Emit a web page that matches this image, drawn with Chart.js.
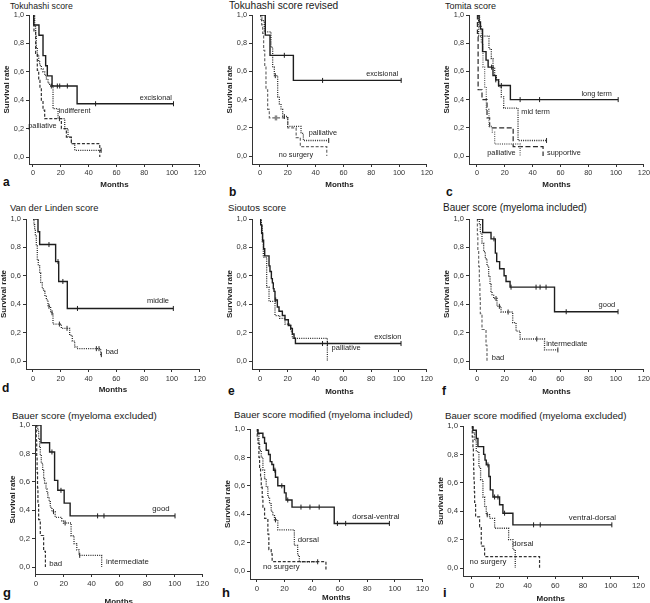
<!DOCTYPE html>
<html>
<head>
<meta charset="utf-8">
<script src="https://cdn.jsdelivr.net/npm/chart.js@4.4.1/dist/chart.umd.min.js"></script>
<style>
html, body { margin: 0; padding: 0; background: #fff; }
body { width: 650px; height: 603px; position: relative; overflow: hidden; font-family: 'Liberation Sans', Arial, sans-serif; }
.ttl { position: absolute; line-height: 12px; color: #1a1a1a; white-space: nowrap; }
.let { position: absolute; line-height: 14px; font-weight: bold; color: #111; }
</style>
</head>
<body>
<script>
// axis ticks
const xTicks = [0, 20, 40, 60, 80, 100, 120];
const yTicks = [0, 0.2, 0.4, 0.6, 0.8, 1.0];

// a - Tokuhashi score
const aExcT = [0, 0.5, 4.3, 7.2, 9.1, 10.3, 13.7, 31.7, 101];
const aExcS = [1, 0.93, 0.857, 0.714, 0.643, 0.571, 0.5, 0.375, 0.375];
const aExcC = [17.5, 19.2, 24.7, 45, 101];
const aIndT = [0, 1.2, 1.9, 2.4, 3.1, 4.1, 4.8, 6, 7.2, 8.4, 9.6, 10.8, 12, 14.4, 18, 22.8, 25.2, 27.6, 30, 49];
const aIndS = [1, 0.92, 0.85, 0.77, 0.72, 0.67, 0.645, 0.62, 0.6, 0.575, 0.55, 0.52, 0.5, 0.34, 0.27, 0.2, 0.14, 0.094, 0.047, 0.047];
const aIndC = [13.2, 49];
const aPalT = [0, 0.7, 1.9, 3.1, 4.1, 5, 6, 7.2, 8.4, 20.4, 24, 27.6, 48];
const aPalS = [1, 0.88, 0.73, 0.61, 0.54, 0.48, 0.4, 0.33, 0.27, 0.2, 0.14, 0.094, 0];
const aPalC = [19];

// b - Tokuhashi score revised
const bExcT = [0, 3.8, 7.2, 24, 101.5];
const bExcS = [1, 0.857, 0.714, 0.536, 0.536];
const bExcC = [17.5, 45, 101.5];
const bPalT = [0, 1.4, 3.1, 7.9, 9.1, 10.3, 12.7, 13.9, 15.1, 16.3, 19.9, 29.5, 31.2, 49.4];
const bPalS = [1, 0.96, 0.88, 0.77, 0.63, 0.57, 0.42, 0.37, 0.33, 0.28, 0.21, 0.16, 0.11, 0.11];
const bPalC = [11, 17.5, 49.4];
const bNoT = [0, 0.5, 1.2, 1.9, 2.6, 3.4, 4.3, 5.5, 6.7, 20, 26, 29, 48];
const bNoS = [1, 0.97, 0.93, 0.87, 0.75, 0.63, 0.47, 0.33, 0.27, 0.2, 0.13, 0.067, 0];
const bNoC = [11, 12];

// c - Tomita score
const cLongT = [0, 1.5, 2.5, 4, 6.5, 8, 11.5, 13.5, 15.5, 24, 101.5];
const cLongS = [1, 0.95, 0.9, 0.74, 0.68, 0.63, 0.57, 0.54, 0.5, 0.4, 0.4];
const cLongC = [10.5, 13.5, 17.5, 31, 45, 101.5];
const cMidT = [0, 1.2, 8.6, 10.3, 11.5, 12.7, 13.9, 15.6, 17.5, 19.2, 29.5, 50];
const cMidS = [1, 0.85, 0.76, 0.69, 0.63, 0.57, 0.54, 0.49, 0.42, 0.34, 0.11, 0.11];
const cMidC = [50];
const cPalT = [0, 1.9, 3.1, 4.3, 5.5, 6.7, 8.6, 11, 12.7, 31];
const cPalS = [1, 0.92, 0.8, 0.63, 0.49, 0.33, 0.21, 0.17, 0.085, 0];
const cSupT = [0, 0.3, 0.8, 3.6, 7.2, 9.1, 26, 47.5];
const cSupS = [1, 0.87, 0.47, 0.4, 0.27, 0.2, 0.067, 0];

// d - Van der Linden score
const dMidT = [0, 3.6, 4.8, 16.3, 18.5, 24.7, 101];
const dMidS = [1, 0.91, 0.82, 0.7, 0.56, 0.37, 0.37];
const dMidC = [11.5, 18, 21.5, 32, 101];
const dBadT = [0, 0.7, 1.2, 1.7, 2.4, 3.1, 3.8, 4.8, 5.5, 6.7, 7.7, 8.6, 9.6, 10.8, 12.7, 14.4, 20.4, 26.4, 28.3, 30, 31.7, 48.7, 49.2];
const dBadS = [1, 0.96, 0.92, 0.88, 0.81, 0.71, 0.67, 0.62, 0.55, 0.51, 0.49, 0.455, 0.43, 0.385, 0.34, 0.26, 0.23, 0.18, 0.14, 0.1, 0.087, 0.045, 0.045];
const dBadC = [11.5, 13.7, 19, 24.5, 45.6, 47.5, 49.2];

// e - Sioutos score
const eExcT = [0, 0.5, 1.2, 1.9, 2.6, 3.4, 6.5, 7.2, 8.2, 8.9, 9.6, 10.1, 10.8, 12.5, 13.7, 16.1, 18, 20.4, 22.1, 23.3, 24.5, 25.5, 101.5];
const eExcS = [1, 0.96, 0.9, 0.85, 0.79, 0.74, 0.67, 0.63, 0.58, 0.55, 0.51, 0.49, 0.43, 0.38, 0.35, 0.32, 0.29, 0.25, 0.23, 0.19, 0.16, 0.123, 0.123];
const eExcC = [11.3, 45, 48.5, 101.5];
const ePalT = [0, 1, 1.7, 2.4, 4.8, 6.5, 10.8, 14.2, 18, 22.1, 23.3, 48.5];
const ePalS = [1, 0.95, 0.84, 0.73, 0.52, 0.42, 0.32, 0.3, 0.26, 0.21, 0.16, 0];

// f - Bauer score (myeloma included)
const fGoodT = [0, 4.1, 10.1, 13.2, 14.2, 16.3, 19.5, 20.9, 23.8, 55.8, 101.5];
const fGoodS = [1, 0.905, 0.86, 0.76, 0.7, 0.65, 0.6, 0.56, 0.52, 0.347, 0.347];
const fGoodC = [12.2, 24.5, 42.5, 45.4, 49.7, 64.2, 101.5];
const fIntT = [0, 1.7, 2.4, 3.6, 4.8, 6, 7.2, 8.4, 9.4, 10.1, 10.8, 12, 14.4, 17.3, 25.7, 28.1, 31, 48.6, 58.2];
const fIntS = [1, 0.96, 0.9, 0.83, 0.77, 0.72, 0.67, 0.6, 0.54, 0.49, 0.467, 0.44, 0.385, 0.345, 0.27, 0.21, 0.155, 0.078, 0.078];
const fIntC = [13.7, 16.1, 22.4, 43, 58.2];
const fBadT = [0, 0.3, 0.6, 1.2, 1.7, 2.1, 2.4, 3.6, 6.5, 7.2];
const fBadS = [1, 0.889, 0.778, 0.667, 0.556, 0.444, 0.333, 0.222, 0.111, 0];

// g - Bauer score (myeloma excluded)
const gGoodT = [0, 3.6, 9.8, 13.4, 15.7, 20.3, 24.6, 100.2];
const gGoodS = [1, 0.875, 0.81, 0.61, 0.54, 0.45, 0.36, 0.36];
const gGoodC = [11.5, 18, 44.4, 49, 100.2];
const gIntT = [0, 1.2, 1.9, 2.6, 3.1, 3.8, 4.8, 5.5, 6.2, 7.2, 7.9, 8.6, 9.5, 10.3, 11.5, 13.8, 18.6, 19.8, 25.3, 27.4, 29.4, 31, 47.3];
const gIntS = [1, 0.965, 0.9, 0.85, 0.79, 0.73, 0.68, 0.62, 0.59, 0.55, 0.52, 0.49, 0.46, 0.42, 0.39, 0.35, 0.325, 0.31, 0.22, 0.165, 0.12, 0.082, 0];
const gIntC = [12.6, 21, 31.5];
const gBadT = [0, 0.2, 0.5, 0.8, 1.1, 1.4, 1.9, 3.1, 5.5, 6.8];
const gBadS = [1, 0.889, 0.778, 0.667, 0.556, 0.444, 0.333, 0.222, 0.111, 0];

// h - Bauer score modified (myeloma included)
const hDvT = [0, 0.7, 4.3, 5.5, 6.7, 8.4, 9.6, 10.8, 12, 13.4, 15.1, 19.9, 21.1, 25.4, 56, 96];
const hDvS = [1, 0.97, 0.94, 0.9, 0.85, 0.82, 0.77, 0.75, 0.71, 0.66, 0.6, 0.55, 0.5, 0.45, 0.335, 0.335];
const hDvC = [13, 18, 22.3, 31.9, 38.4, 45.1, 58.3, 64.3, 96];
const hDorT = [0, 0.7, 1.4, 1.9, 3.1, 4.3, 5.5, 6.7, 7.9, 9.1, 10.3, 11.5, 12.7, 15.1, 27.1, 29.5, 30.7, 44];
const hDorS = [1, 0.97, 0.9, 0.85, 0.8, 0.71, 0.65, 0.59, 0.52, 0.475, 0.42, 0.39, 0.36, 0.29, 0.18, 0.11, 0.065, 0.065];
const hDorC = [13.4, 44];
const hNoT = [0, 0.2, 0.7, 1.4, 1.9, 2.6, 3.1, 3.8, 4.3, 5.5, 7.9, 8.6, 10.3, 11, 50];
const hNoS = [1, 0.95, 0.9, 0.8, 0.73, 0.66, 0.59, 0.52, 0.45, 0.37, 0.26, 0.15, 0.12, 0.066, 0];

// i - Bauer score modified (myeloma excluded)
const iVdT = [0, 0.7, 3.1, 4.3, 8.4, 9.4, 10.3, 12.2, 13.2, 15.1, 19.9, 22.3, 29.5, 100.8];
const iVdS = [1, 0.97, 0.913, 0.855, 0.8, 0.76, 0.726, 0.644, 0.55, 0.5, 0.445, 0.386, 0.304, 0.304];
const iVdC = [11.5, 16.3, 18.7, 23.5, 44.4, 49.2, 100.8];
const iDorT = [0, 0.7, 1.9, 3.1, 5, 6.2, 7.9, 9.1, 10.3, 12.7, 16.3, 26.4, 29.5, 31.2];
const iDorS = [1, 0.95, 0.9, 0.82, 0.71, 0.62, 0.5, 0.43, 0.375, 0.35, 0.28, 0.2, 0.13, 0];
const iDorC = [11];
const iNoT = [0, 0.2, 0.7, 1, 1.2, 1.4, 1.7, 1.9, 2.6, 5.5, 6.7, 9.1, 48.7];
const iNoS = [1, 0.923, 0.846, 0.769, 0.692, 0.615, 0.538, 0.462, 0.36, 0.29, 0.154, 0.08, 0];

Chart.defaults.font.family = "'Liberation Sans', Arial, sans-serif";
Chart.defaults.color = '#333';

const STY = {
    solid: { color: '#1e1e1e', width: 1.4, dash: [] },
    dot: { color: '#2a2a2a', width: 1.3, dash: [1, 1.2] },
    dotgray: { color: '#6a6a6a', width: 1.3, dash: [1, 1.2] },
    dash: { color: '#333', width: 1.2, dash: [3, 1.8] },
    dashgray: { color: '#6a6a6a', width: 1.2, dash: [3, 1.8] },
    longdash: { color: '#2a2a2a', width: 1.2, dash: [5, 2.5] }
};

// geo: axis-left px, x=0 px, x=120 px, y=1 px, y=0 px, axis-bottom px, "Months" centre y
// fs: title size, tick size, letter size
const panels = [
    { title: 'Tokuhashi score', letter: 'a', fs: [8.7, 7.3, 12], tpos: [10, 6], lpos: [3, 183], geo: [29, 33.3, 200, 14.7, 156.7, 164.3, 185],
      curves: [{ t: aExcT, s: aExcS, c: aExcC, st: 'solid' }, { t: aIndT, s: aIndS, c: aIndC, st: 'dot' }, { t: aPalT, s: aPalS, c: aPalC, st: 'dash' }],
      labels: [['excisional', 76.8, 0.418], ['indifferent', 18.5, 0.324], ['palliative', -3.4, 0.216]] },
    { title: 'Tokuhashi score revised', letter: 'b', fs: [10.2, 7.3, 12], tpos: [229, 6], lpos: [229, 193], geo: [251.7, 260, 426.7, 14.7, 156, 164, 185],
      curves: [{ t: bExcT, s: bExcS, c: bExcC, st: 'solid' }, { t: bPalT, s: bPalS, c: bPalC, st: 'dot' }, { t: bNoT, s: bNoS, c: bNoC, st: 'dashgray' }],
      labels: [['excisional', 76.3, 0.585], ['palliative', 35, 0.16], ['no surgery', 13.4, 0.007]] },
    { title: 'Tomita score', letter: 'c', fs: [9, 7.3, 12], tpos: [445, 6], lpos: [446, 193], geo: [468.7, 477, 643.7, 14.7, 156, 164, 185],
      curves: [{ t: cLongT, s: cLongS, c: cLongC, st: 'solid' }, { t: cMidT, s: cMidS, c: cMidC, st: 'dot' }, { t: cPalT, s: cPalS, st: 'dotgray' }, { t: cSupT, s: cSupS, st: 'longdash' }],
      labels: [['long term', 75.1, 0.443], ['mid term', 31.9, 0.309], ['palliative', 7.4, 0.019], ['supportive', 50.4, 0.019]] },
    { title: 'Van der Linden score', letter: 'd', fs: [9.4, 7.5, 12], tpos: [10, 208], lpos: [2, 389], geo: [26, 33.3, 200, 219.3, 361.3, 369.3, 390],
      curves: [{ t: dMidT, s: dMidS, c: dMidC, st: 'solid' }, { t: dBadT, s: dBadS, c: dBadC, st: 'dot' }],
      labels: [['middle', 82, 0.42], ['bad', 52.3, 0.061]] },
    { title: 'Sioutos score', letter: 'e', fs: [9.6, 7.5, 12], tpos: [228, 208], lpos: [228, 392], geo: [251.7, 260.3, 426.7, 219.3, 360.7, 368.7, 391.7],
      curves: [{ t: eExcT, s: eExcS, c: eExcC, st: 'solid' }, { t: ePalT, s: ePalS, st: 'dot' }],
      labels: [['excision', 82.3, 0.17], ['palliative', 51.5, 0.094]] },
    { title: 'Bauer score (myeloma included)', letter: 'f', fs: [10, 7.5, 12], tpos: [443, 208], lpos: [442, 392], geo: [468.7, 477.3, 643.7, 219.3, 361.3, 369, 391.7],
      curves: [{ t: fGoodT, s: fGoodS, c: fGoodC, st: 'solid' }, { t: fIntT, s: fIntS, c: fIntC, st: 'dot' }, { t: fBadT, s: fBadS, st: 'dashgray' }],
      labels: [['good', 87.5, 0.397], ['intermediate', 49.8, 0.122], ['bad', 10.6, 0.021]] },
    { title: 'Bauer score (myeloma excluded)', letter: 'g', fs: [9.9, 7.8, 13], tpos: [12, 416], lpos: [3, 594], geo: [35, 35.7, 203.3, 425, 566.7, 574, 601.7],
      curves: [{ t: gGoodT, s: gGoodS, c: gGoodC, st: 'solid' }, { t: gIntT, s: gIntS, c: gIntC, st: 'dot' }, { t: gBadT, s: gBadS, st: 'dash' }],
      labels: [['good', 83.8, 0.407], ['intermediate', 50.4, 0.035], ['bad', 9.5, 0.019]] },
    { title: 'Bauer score modified (myeloma included)', letter: 'h', fs: [9.7, 7.8, 13], tpos: [234, 415], lpos: [222, 594], geo: [250.3, 256.7, 423.3, 429, 570.7, 579, 598],
      curves: [{ t: hDvT, s: hDvS, c: hDvC, st: 'solid' }, { t: hDorT, s: hDorS, c: hDorC, st: 'dot' }, { t: hNoT, s: hNoS, st: 'dash' }],
      labels: [['dorsal-ventral', 69.1, 0.381], ['dorsal', 29.5, 0.216], ['no surgery', 4.3, 0.028]] },
    { title: 'Bauer score modified (myeloma excluded)', letter: 'i', fs: [9.7, 7.8, 13], tpos: [445, 416], lpos: [443, 594], geo: [463, 472, 638.7, 426, 568.3, 576, 599],
      curves: [{ t: iVdT, s: iVdS, c: iVdC, st: 'solid' }, { t: iDorT, s: iDorS, c: iDorC, st: 'dot' }, { t: iNoT, s: iNoS, st: 'dash' }],
      labels: [['ventral-dorsal', 69.8, 0.351], ['dorsal', 29, 0.171], ['no surgery', -1.7, 0.042]] }
];

function stepAt(t, s, x) {
    let v = s[0];
    for (let i = 0; i < t.length; i++) if (t[i] <= x) v = s[i];
    return v;
}

function labelPlugin(items, size) {
    return {
        id: 'curveLabels',
        afterDatasetsDraw(chart) {
            const { ctx, scales } = chart;
            ctx.save();
            ctx.font = size + "px 'Liberation Sans', Arial, sans-serif";
            ctx.fillStyle = '#1e1e1e';
            ctx.textAlign = 'left';
            ctx.textBaseline = 'middle';
            items.forEach(([txt, tx, sy]) => {
                ctx.fillText(txt, scales.x.getPixelForValue(tx), scales.y.getPixelForValue(sy));
            });
            ctx.restore();
        }
    };
}

panels.forEach(p => {
    const [XL, X0, X120, Y1, Y0, YB, MO] = p.geo.map(Math.round);
    const [titleSize, tickSize, letterSize] = p.fs;
    const yw = 27;
    const hx = Math.round(MO - YB + 4.8);
    const left = XL - yw, top = Y1 - 10;
    const w = X120 + 8 - left, h = YB + hx - top;

    const t = document.createElement('div');
    t.className = 'ttl';
    t.textContent = p.title;
    t.style.fontSize = titleSize + 'px';
    t.style.left = p.tpos[0] + 'px';
    t.style.top = (p.tpos[1] - 6) + 'px';
    document.body.appendChild(t);

    const l = document.createElement('div');
    l.className = 'let';
    l.textContent = p.letter;
    l.style.fontSize = letterSize + 'px';
    l.style.left = p.lpos[0] + 'px';
    l.style.top = (p.lpos[1] - 8) + 'px';
    document.body.appendChild(l);

    const cv = document.createElement('canvas');
    cv.width = w; cv.height = h;
    cv.style.cssText = `position:absolute;left:${left}px;top:${top}px;width:${w}px;height:${h}px;`;
    document.body.appendChild(cv);

    const xmin = -(X0 - XL) * 120 / (X120 - X0);
    const ymin = -(YB - Y0) / (Y0 - Y1);

    const datasets = [];
    p.curves.forEach(c => {
        const st = STY[c.st];
        datasets.push({
            data: c.t.map((v, i) => ({ x: v, y: c.s[i] })),
            stepped: true,
            borderColor: st.color,
            borderWidth: st.width,
            borderDash: st.dash,
            pointRadius: 0,
            fill: false
        });
        if (c.c) {
            datasets.push({
                data: c.c.map(v => ({ x: v, y: stepAt(c.t, c.s, v) })),
                showLine: false,
                pointStyle: 'line',
                pointRotation: 90,
                pointRadius: 2.5,
                pointBorderWidth: 1,
                borderColor: st.color,
                pointBorderColor: st.color
            });
        }
    });

    const axisGrid = { drawOnChartArea: false, drawTicks: true, tickLength: 3, color: '#333', lineWidth: 1 };
    const axisBorder = { display: true, color: '#333', width: 1 };

    new Chart(cv, {
        type: 'line',
        data: { datasets },
        options: {
            responsive: false,
            animation: false,
            devicePixelRatio: 1,
            layout: { padding: { top: 10, right: 8, left: 0, bottom: 0 } },
            plugins: { legend: { display: false }, tooltip: { enabled: false }, title: { display: false } },
            scales: {
                x: {
                    type: 'linear', min: xmin, max: 120,
                    afterBuildTicks: s => { s.ticks = xTicks.map(v => ({ value: v })); },
                    afterFit: s => { s.height = hx; },
                    ticks: { autoSkip: false, maxRotation: 0, padding: 2, font: { size: tickSize }, color: '#333' },
                    grid: axisGrid,
                    border: axisBorder,
                    title: { display: true, text: 'Months', font: { size: 8, weight: 'bold' }, color: '#1e1e1e', padding: 0 }
                },
                y: {
                    type: 'linear', min: ymin, max: 1,
                    afterBuildTicks: s => { s.ticks = yTicks.map(v => ({ value: v })); },
                    afterFit: s => { s.width = yw; },
                    ticks: { padding: 2, font: { size: tickSize }, color: '#333', callback: v => Number(v).toFixed(1).replace('.', ',') },
                    grid: axisGrid,
                    border: axisBorder,
                    title: { display: true, text: 'Survival rate', font: { size: 8, weight: 'bold' }, color: '#1e1e1e', padding: 0 }
                }
            }
        },
        plugins: [labelPlugin(p.labels, tickSize)]
    });
});
</script>
</body>
</html>
